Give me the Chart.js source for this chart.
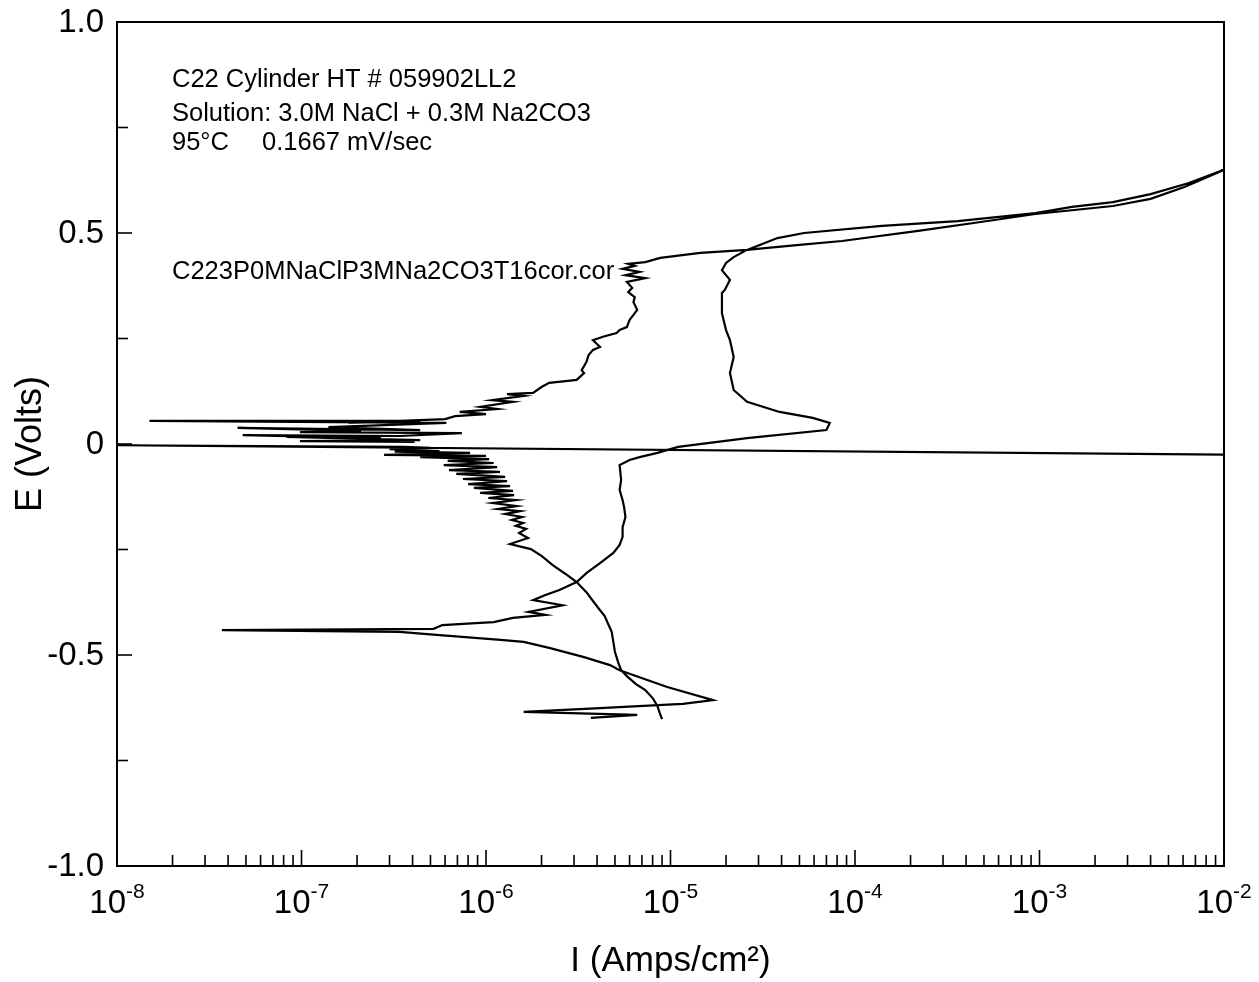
<!DOCTYPE html>
<html>
<head>
<meta charset="utf-8">
<script src="https://cdn.jsdelivr.net/npm/chart.js@4/dist/chart.umd.min.js"></script>
<style>
  html, body { margin: 0; padding: 0; background: #fff; }
  canvas { display: block; }
</style>
</head>
<body>
<canvas id="c" width="1259" height="982"></canvas>
<script>
// Cyclic polarization scan, C22 cylinder: current density (A/cm^2) vs potential (V)

// Cathodic start, rising towards the first crossing
const riseI = [9.0e-6, 8.7e-6, 8.5e-6, 8.0e-6, 7.3e-6, 6.5e-6, 5.8e-6, 5.4e-6, 5.2e-6, 5.0e-6, 4.9e-6, 4.8e-6, 4.6e-6, 4.4e-6, 4.1e-6, 3.8e-6, 3.5e-6, 3.1e-6];
const riseE = [-0.652, -0.635, -0.621, -0.602, -0.583, -0.569, -0.550, -0.536, -0.517, -0.493, -0.469, -0.445, -0.427, -0.408, -0.391, -0.372, -0.351, -0.327];

// Noisy stretch up to the zero crossing (ends on the full-width current drop-out)
const noisyI = [2.7e-6, 2.3e-6, 2.0e-6, 1.75e-6,
  1.35e-6, 1.69e-6, 1.51e-6, 1.65e-6, 1.45e-6, 1.59e-6, 1.38e-6, 1.57e-6, 1.27e-6, 1.53e-6,
  1.16e-6, 1.47e-6, 1.09e-6, 1.45e-6, 1.03e-6, 1.42e-6, 9.3e-7, 1.40e-6, 8.6e-7, 1.35e-6,
  8.0e-7, 1.30e-6, 7.5e-7, 1.27e-6, 6.9e-7, 1.19e-6, 6.3e-7, 1.15e-6, 5.9e-7, 1.10e-6,
  6.2e-7, 1.04e-6, 4.4e-7, 1.0e-6, 2.8e-7, 8.2e-7, 3.2e-7, 5.6e-7, 3.0e-7, 5.0e-7, 3.6e-7,
  1.0e-8, 1.0e-2];
const noisyE = [-0.308, -0.287, -0.265, -0.249,
  -0.237, -0.223, -0.211, -0.201, -0.194, -0.187, -0.180, -0.173, -0.166, -0.159,
  -0.154, -0.147, -0.140, -0.133, -0.128, -0.121, -0.116, -0.111, -0.104, -0.100,
  -0.095, -0.088, -0.083, -0.078, -0.071, -0.066, -0.062, -0.055, -0.050, -0.045,
  -0.040, -0.036, -0.031, -0.028, -0.026, -0.021, -0.018, -0.017, -0.012, -0.009, -0.007,
  -0.003, -0.025];

// Spikes above 0 V and the passive rise to breakdown
const passiveUpI = [4.1e-7, 9.8e-8, 4.4e-7, 8.3e-8, 2.7e-7, 4.8e-8, 3.4e-7, 7.4e-7, 9.8e-8, 2.1e-7, 4.5e-8, 4.4e-7, 1.4e-7, 6.1e-7, 1.5e-8, 4.4e-7, 1.8e-7, 6.0e-7, 6.8e-7,
  1.0e-6, 7.2e-7, 1.15e-6, 9.3e-7, 1.4e-6, 1.08e-6, 1.6e-6, 1.3e-6, 1.8e-6, 2.0e-6, 2.2e-6, 2.7e-6, 3.1e-6, 3.4e-6, 3.3e-6, 3.5e-6, 3.6e-6, 3.8e-6, 4.15e-6, 3.8e-6, 4.3e-6,
  5.1e-6, 5.3e-6, 5.8e-6, 6.0e-6, 6.3e-6, 6.6e-6, 6.3e-6, 6.4e-6, 5.9e-6, 6.2e-6, 5.8e-6, 7.3e-6, 5.7e-6, 6.8e-6, 5.5e-6, 6.4e-6, 5.9e-6, 7.3e-6, 8.8e-6, 1.45e-5, 2.6e-5];
const passiveUpE = [0.005, 0.007, 0.009, 0.017, 0.014, 0.021, 0.019, 0.026, 0.028, 0.031, 0.038, 0.033, 0.040, 0.050, 0.055, 0.055, 0.050, 0.059, 0.066,
  0.071, 0.076, 0.083, 0.088, 0.100, 0.104, 0.114, 0.118, 0.121, 0.135, 0.145, 0.149, 0.152, 0.168, 0.175, 0.194, 0.211, 0.223, 0.230, 0.246, 0.254,
  0.263, 0.270, 0.277, 0.294, 0.306, 0.318, 0.336, 0.348, 0.360, 0.370, 0.384, 0.393, 0.400, 0.408, 0.415, 0.422, 0.427, 0.431, 0.441, 0.453, 0.460];

// Transpassive branch out to the vertex
const loopOutI = [3.25e-5, 5.0e-5, 8.5e-5, 2.2e-4, 4.8e-4, 9.5e-4, 2.5e-3, 4.0e-3, 6.1e-3, 9.9e-3];
const loopOutE = [0.464, 0.472, 0.481, 0.505, 0.526, 0.545, 0.564, 0.581, 0.609, 0.649];

// Reverse from the vertex back to the passive region
const loopBackI = [6.4e-3, 4.0e-3, 2.5e-3, 1.5e-3, 9.5e-4, 3.6e-4, 1.4e-4, 5.3e-5, 3.8e-5, 2.6e-5];
const loopBackE = [0.618, 0.592, 0.573, 0.562, 0.547, 0.528, 0.517, 0.500, 0.488, 0.460];

// Passive plateau on the way down, anodic nose and descent to the crossing
const passiveDownI = [2.2e-5, 2.0e-5, 1.9e-5, 2.1e-5, 1.97e-5, 1.9e-5, 1.9e-5, 1.9e-5, 2.0e-5, 2.1e-5, 2.2e-5, 2.1e-5, 2.2e-5, 2.6e-5, 3.9e-5, 5.9e-5, 7.3e-5, 7.0e-5, 2.6e-5, 1.1e-5, 8.5e-6, 6.8e-6, 6.0e-6, 5.3e-6, 5.4e-6, 5.3e-6, 5.5e-6, 5.6e-6, 5.7e-6, 5.5e-6, 5.5e-6, 5.3e-6, 4.9e-6, 4.15e-6, 3.5e-6, 3.1e-6];
const passiveDownE = [0.443, 0.429, 0.412, 0.389, 0.365, 0.358, 0.348, 0.310, 0.270, 0.246, 0.206, 0.168, 0.128, 0.100, 0.076, 0.062, 0.050, 0.033, 0.014, -0.007, -0.021, -0.031, -0.038, -0.050, -0.085, -0.109, -0.133, -0.149, -0.173, -0.197, -0.220, -0.239, -0.258, -0.282, -0.306, -0.327];

// Cathodic tail: spike near -0.44 V, cathodic nose and scan end
const tailI = [2.5e-6, 2.1e-6, 1.8e-6, 2.6e-6, 1.7e-6, 2.1e-6, 1.4e-6, 1.1e-6, 9.3e-7, 5.8e-7, 5.2e-7, 3.7e-8, 3.4e-7, 5.6e-7, 1.2e-6, 1.6e-6, 2.2e-6, 3.4e-6, 4.7e-6, 5.3e-6, 9.6e-6, 1.7e-5, 1.17e-5, 9.1e-6, 4.15e-6, 1.6e-6, 6.6e-6, 3.7e-6];
const tailE = [-0.346, -0.358, -0.370, -0.382, -0.398, -0.405, -0.412, -0.422, -0.424, -0.429, -0.438, -0.441, -0.445, -0.453, -0.464, -0.469, -0.483, -0.505, -0.524, -0.536, -0.576, -0.607, -0.616, -0.618, -0.626, -0.635, -0.642, -0.649];

// Axis ticks
const decadeExponents = [-8, -7, -6, -5, -4, -3, -2];
const minorMultipliers = [2, 3, 4, 5, 6, 7, 8, 9];
const majorPotentials = [-1, -0.5, 0, 0.5, 1];
const minorPotentials = [-0.75, -0.25, 0.25, 0.75];
const potentialLabels = ['-1.0', '-0.5', '0', '0.5', '1.0'];

// Text blocks
const headerLines = ['C22 Cylinder HT # 059902LL2', 'Solution: 3.0M NaCl + 0.3M Na2CO3'];
const conditionsTemp = '95°C';
const conditionsRate = '0.1667 mV/sec';
const fileLabel = 'C223P0MNaClP3MNa2CO3T16cor.cor';

function pts(I, E) {
  const n = Math.min(I.length, E.length);
  const out = [];
  for (let i = 0; i < n; i++) out.push({ x: I[i], y: E[i] });
  return out;
}

const firstPart = pts(riseI.concat(noisyI), riseE.concat(noisyE));
const secondPart = pts(
  passiveUpI.concat(loopOutI, loopBackI, passiveDownI, tailI),
  passiveUpE.concat(loopOutE, loopBackE, passiveDownE, tailE)
);

const FONT = '"Liberation Sans", Arial, Helvetica, sans-serif';
Chart.defaults.font.family = FONT;
Chart.defaults.color = '#000';

const decorations = {
  id: 'decorations',
  afterDraw(chart) {
    const { ctx, chartArea: a, scales: { x, y } } = chart;
    ctx.save();
    ctx.strokeStyle = '#000';
    ctx.fillStyle = '#000';
    ctx.lineWidth = 2;
    ctx.strokeRect(a.left, a.top, a.right - a.left, a.bottom - a.top);

    const seg = (x1, y1, x2, y2) => { ctx.beginPath(); ctx.moveTo(x1, y1); ctx.lineTo(x2, y2); ctx.stroke(); };
    ctx.lineWidth = 1.6;

    // inward x ticks
    decadeExponents.forEach((e, k) => {
      const px = x.getPixelForValue(Math.pow(10, e));
      seg(px, a.bottom, px, a.bottom - 16);
      if (k < decadeExponents.length - 1) {
        minorMultipliers.forEach(m => {
          const mx = x.getPixelForValue(m * Math.pow(10, e));
          seg(mx, a.bottom, mx, a.bottom - 11);
        });
      }
    });
    // inward y ticks
    majorPotentials.forEach(v => { const py = y.getPixelForValue(v); seg(a.left, py, a.left + 15, py); });
    minorPotentials.forEach(v => { const py = y.getPixelForValue(v); seg(a.left, py, a.left + 11, py); });

    // y tick labels
    ctx.font = '33px ' + FONT;
    ctx.textAlign = 'right';
    ctx.textBaseline = 'middle';
    majorPotentials.forEach((v, k) => {
      ctx.fillText(potentialLabels[k], a.left - 13, y.getPixelForValue(v) + 1);
    });

    // x tick labels with superscript exponents
    ctx.textBaseline = 'alphabetic';
    ctx.textAlign = 'left';
    decadeExponents.forEach(e => {
      const px = x.getPixelForValue(Math.pow(10, e));
      const exp = String(e);
      ctx.font = '33px ' + FONT;
      const w1 = ctx.measureText('10').width;
      ctx.font = '21px ' + FONT;
      const w2 = ctx.measureText(exp).width;
      const start = px - (w1 + w2) / 2;
      ctx.font = '33px ' + FONT;
      ctx.fillText('10', start, 913);
      ctx.font = '21px ' + FONT;
      ctx.fillText(exp, start + w1, 898);
    });

    // annotations
    ctx.font = '25.5px ' + FONT;
    ctx.fillText(headerLines[0], 172, 87);
    ctx.fillText(headerLines[1], 172, 121);
    ctx.fillText(conditionsTemp, 172, 150);
    ctx.fillText(conditionsRate, 262, 150);
    ctx.fillText(fileLabel, 172, 279);
    ctx.restore();
  }
};

const lineStyle = {
  showLine: true,
  borderColor: '#000',
  backgroundColor: '#000',
  borderWidth: 2.2,
  pointRadius: 0,
  tension: 0,
  fill: false
};

new Chart(document.getElementById('c'), {
  type: 'scatter',
  data: {
    datasets: [
      Object.assign({ data: firstPart }, lineStyle),
      Object.assign({ data: secondPart }, lineStyle)
    ]
  },
  options: {
    responsive: false,
    animation: false,
    layout: { padding: { top: 22, right: 35, left: 0, bottom: 0 } },
    plugins: { legend: { display: false }, tooltip: { enabled: false } },
    scales: {
      x: {
        type: 'logarithmic',
        min: 1e-8,
        max: 1e-2,
        grid: { display: false, drawTicks: false },
        border: { display: false },
        ticks: { display: false },
        title: { display: true, text: 'I (Amps/cm²)', font: { size: 35 }, padding: { top: 0, bottom: 0 } },
        afterFit(scale) { scale.height = 116; }
      },
      y: {
        min: -1,
        max: 1,
        grid: { display: false, drawTicks: false },
        border: { display: false },
        ticks: { display: false, stepSize: 0.5 },
        title: { display: true, text: 'E (Volts)', font: { size: 36 }, padding: { top: 9, bottom: 0 } },
        afterFit(scale) { scale.width = 117; }
      }
    }
  },
  plugins: [decorations]
});
</script>
</body>
</html>
